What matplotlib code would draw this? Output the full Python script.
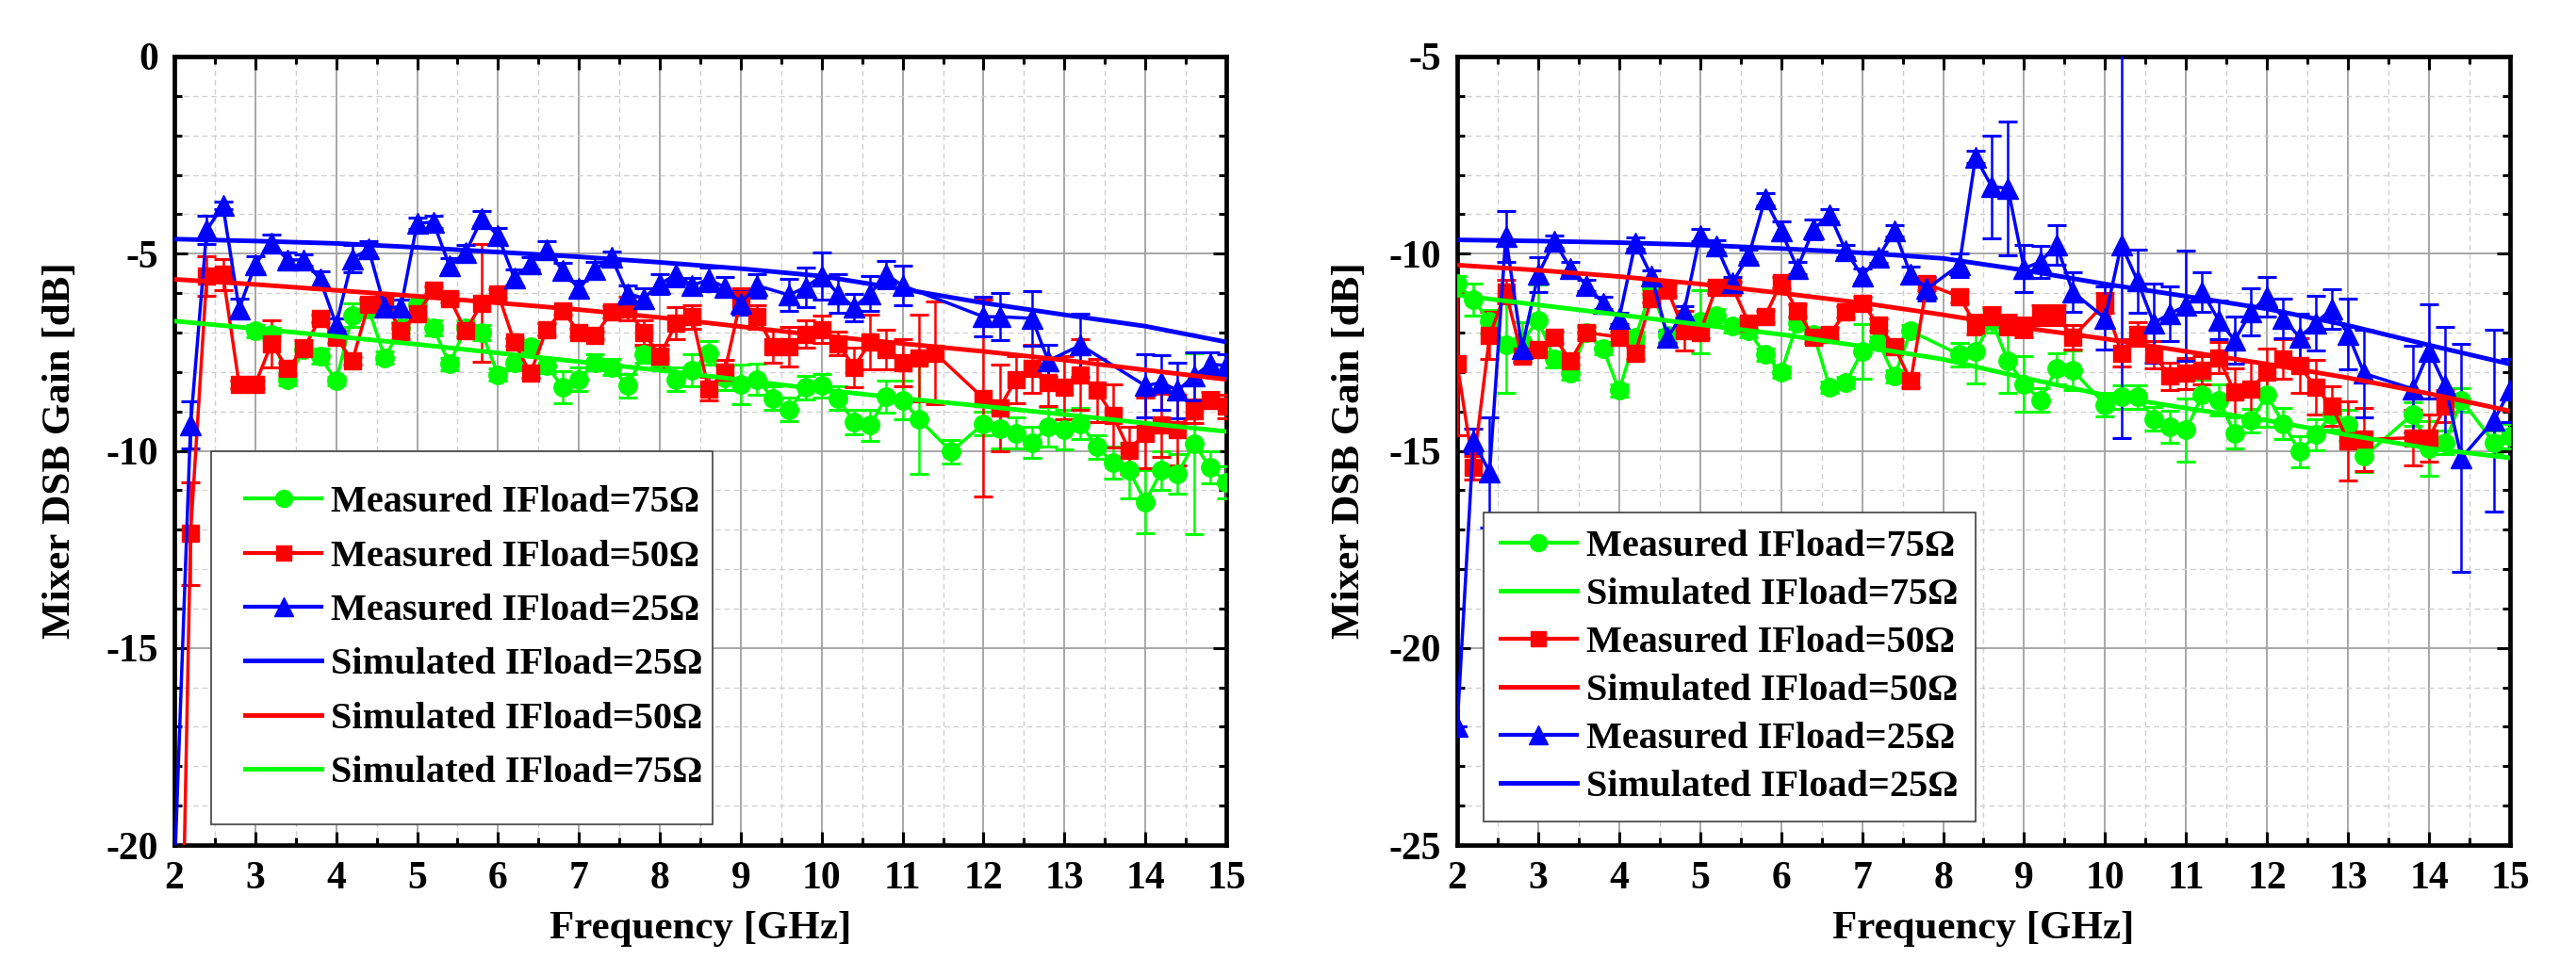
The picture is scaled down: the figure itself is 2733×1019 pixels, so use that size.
import matplotlib
matplotlib.use("Agg")
import matplotlib.pyplot as plt
from matplotlib.lines import Line2D
from matplotlib.ticker import MultipleLocator

plt.rcParams['font.family'] = ['Liberation Serif', 'DejaVu Serif']
plt.rcParams['font.weight'] = 'bold'
plt.rcParams['axes.unicode_minus'] = False

GREEN = '#00ff00'
RED = '#ff0000'
BLUE = '#0000ff'

# ---------------- left panel: measured data ----------------
lb_f = [2.0, 2.2, 2.4, 2.6, 2.8, 3.0, 3.2, 3.4, 3.6, 3.8, 4.0, 4.2, 4.4, 4.6, 4.8,
        5.0, 5.2, 5.4, 5.6, 5.8, 6.0, 6.2, 6.4, 6.6, 6.8, 7.0, 7.2, 7.4, 7.6, 7.8,
        8.0, 8.2, 8.4, 8.6, 8.8, 9.0, 9.2, 9.6, 9.8, 10.0, 10.2, 10.4, 10.6, 10.8,
        11.0, 12.0, 12.2, 12.6, 12.8, 13.2, 14.0, 14.2, 14.4, 14.6, 14.8, 15.0]
lb_g = [-20.8, -9.35, -4.40, -3.78, -6.40, -5.27, -4.72, -5.16, -5.16, -5.65, -6.80,
        -5.13, -4.88, -6.36, -6.36, -4.23, -4.20, -5.31, -4.97, -4.11, -4.55, -5.61,
        -5.25, -4.89, -5.43, -5.89, -5.41, -5.09, -6.01, -6.13, -5.77, -5.53, -5.81,
        -5.65, -5.85, -6.25, -5.81, -6.05, -5.85, -5.57, -6.01, -6.36, -6.01, -5.53,
        -5.81, -6.60, -6.60, -6.64, -7.72, -7.32, -8.35, -8.27, -8.47, -8.11, -7.80, -7.84]
lb_e = [0, .6, .35, .1, .25, .2, .2, .2, .15, .2, .15, .35, .2, .2, .2, .15, .15, .2,
        .2, .2, .2, .2, .15, .2, .2, .2, .2, .15, .2, .25, .25, .3, .2, .3, .25, .3,
        .3, .4, .5, .6, .5, .35, .45, .35, .5, .5, .6, .7, .4, .8, .8, .7, .7, .6, .3, .3]

lr_f = [2.0, 2.2, 2.4, 2.6, 2.8, 3.0, 3.2, 3.4, 3.6, 3.8, 4.0, 4.2, 4.4, 4.6, 4.8,
        5.0, 5.2, 5.4, 5.6, 5.8, 6.0, 6.2, 6.4, 6.6, 6.8, 7.0, 7.2, 7.4, 7.6, 7.8,
        8.0, 8.2, 8.4, 8.6, 8.8, 9.0, 9.2, 9.4, 9.6, 9.8, 10.0, 10.2, 10.4, 10.6,
        10.8, 11.0, 11.2, 11.4, 12.0, 12.2, 12.4, 12.6, 12.8, 13.0, 13.2, 13.4, 13.6,
        13.8, 14.0, 14.2, 14.4, 14.6, 14.8, 15.0]
lr_g = [-33.0, -12.1, -5.57, -5.53, -8.31, -8.31, -7.28, -7.92, -7.40, -6.64, -7.12,
        -7.72, -6.28, -6.21, -6.96, -6.52, -5.93, -6.13, -6.96, -6.25, -6.01, -7.24,
        -8.04, -6.92, -6.44, -7.00, -7.08, -6.48, -6.40, -7.00, -7.60, -6.76, -6.60,
        -8.43, -8.00, -6.17, -6.60, -7.36, -7.36, -7.04, -6.92, -7.28, -7.88, -7.24,
        -7.44, -7.76, -7.64, -7.52, -8.67, -8.91, -8.19, -7.92, -8.27, -8.39, -8.07,
        -8.47, -9.11, -9.98, -9.55, -9.35, -9.47, -8.99, -8.71, -8.87]
lr_e = [0, 1.3, .5, .4, .1, .1, .6, .15, .2, .1, .15, .1, .15, .15, .2, .2, .1, .1,
        .15, 1.5, .1, .1, .1, .15, .1, .1, .1, .15, .3, .3, .3, .4, .3, .3, .3, .3,
        .3, .4, .5, .35, .35, .3, .5, .7, .5, .6, 1.1, 1.3, 2.5, 1.1, .6, .6, .6, .8,
        .9, .8, .8, .6, .9, .8, .9, .3, .2, .3]

lg_f = [3.0, 3.2, 3.4, 3.6, 3.8, 4.0, 4.2, 4.4, 4.6, 4.8, 5.0, 5.2, 5.4, 5.6, 5.8,
        6.0, 6.2, 6.4, 6.6, 6.8, 7.0, 7.2, 7.4, 7.6, 7.8, 8.0, 8.2, 8.4, 8.6, 8.8,
        9.0, 9.2, 9.4, 9.6, 9.8, 10.0, 10.2, 10.4, 10.6, 10.8, 11.0, 11.2, 11.6,
        12.0, 12.2, 12.4, 12.6, 12.8, 13.0, 13.2, 13.4, 13.6, 13.8, 14.0, 14.2, 14.4,
        14.6, 14.8, 15.0]
lg_g = [-6.96, -7.04, -8.19, -7.44, -7.60, -8.23, -6.56, -6.40, -7.64, -6.88, -6.28,
        -6.88, -7.80, -6.88, -7.00, -8.07, -7.76, -7.36, -7.84, -8.39, -8.19, -7.76,
        -7.88, -8.35, -7.56, -7.64, -8.19, -7.96, -7.52, -8.15, -8.31, -8.19, -8.67,
        -8.95, -8.39, -8.35, -8.67, -9.27, -9.35, -8.63, -8.71, -9.19, -10.02, -9.31,
        -9.43, -9.55, -9.79, -9.39, -9.47, -9.31, -9.90, -10.30, -10.50, -11.30,
        -10.50, -10.58, -9.82, -10.42, -10.80]
lg_e = [.15, .15, .15, .15, .2, .1, .3, .2, .15, .15, .2, .2, .15, .2, .2, .15, .2,
        .15, .2, .4, .3, .2, .2, .3, .2, .2, .3, .4, .3, .3, .5, .4, .3, .3, .3, .3,
        .3, .3, .4, .4, .5, 1.4, .3, .3, .5, .4, .4, .5, .5, .4, .3, .4, .7, .8, .5,
        .5, 2.3, .4, .4]

# ---------------- right panel: measured data ----------------
rb_f = [2.0, 2.2, 2.4, 2.6, 2.8, 3.0, 3.2, 3.4, 3.6, 3.8, 4.0, 4.2, 4.4, 4.6, 4.8,
        5.0, 5.2, 5.4, 5.6, 5.8, 6.0, 6.2, 6.4, 6.6, 6.8, 7.0, 7.2, 7.4, 7.6, 7.8,
        8.2, 8.4, 8.6, 8.8, 9.0, 9.2, 9.4, 9.6, 10.0, 10.2, 10.4, 10.6, 10.8, 11.0,
        11.2, 11.4, 11.6, 11.8, 12.0, 12.2, 12.4, 12.6, 12.8, 13.0, 13.2, 13.8, 14.0,
        14.2, 14.4, 14.8, 15.0]
rb_g = [-22.0, -14.75, -15.54, -9.57, -12.40, -10.53, -9.69, -10.37, -10.81, -11.25,
        -11.64, -9.73, -10.57, -12.12, -11.48, -9.53, -9.81, -10.73, -10.05, -8.62,
        -9.42, -10.37, -9.38, -9.02, -9.93, -10.57, -10.09, -9.42, -10.53, -10.89,
        -10.29, -7.55, -8.30, -8.34, -10.37, -10.21, -9.77, -10.97, -11.64, -9.77,
        -10.69, -11.76, -11.52, -11.32, -10.97, -11.68, -12.20, -11.48, -11.09,
        -11.64, -12.12, -11.76, -11.40, -12.04, -13.04, -13.43, -12.48, -13.35,
        -15.18, -14.23, -13.47]
rb_e = [0, .3, 1.4, .65, .2, .45, .15, .15, .15, .15, .15, .15, .15, .15, .15, .15,
        .15, .15, .15, .15, .25, .15, .25, .15, .15, .2, .15, .15, .2, .3, .3, .15,
        1.3, 1.7, .6, .4, .5, .5, .8, 4.9, .8, 1.0, .7, 1.4, .5, .5, .6, .6, .5, .5,
        .6, .7, .5, .9, 1.1, 1.1, 1.2, 1.5, 2.9, 2.3, .8]

rr_f = [2.0, 2.2, 2.4, 2.6, 2.8, 3.0, 3.2, 3.4, 3.6, 4.0, 4.2, 4.4, 4.6, 4.8, 5.0,
        5.2, 5.4, 5.6, 5.8, 6.0, 6.2, 6.4, 6.6, 6.8, 7.0, 7.2, 7.4, 7.6, 7.8, 8.2,
        8.4, 8.6, 8.8, 9.0, 9.2, 9.4, 9.6, 10.0, 10.2, 10.4, 10.6, 10.8, 11.0, 11.2,
        11.4, 11.6, 11.8, 12.0, 12.2, 12.4, 12.6, 12.8, 13.0, 13.2, 13.8, 14.0, 14.2]
rr_g = [-12.80, -15.42, -12.08, -10.97, -12.60, -12.44, -12.12, -12.72, -12.00,
        -12.12, -12.52, -11.13, -10.93, -11.96, -12.00, -10.85, -10.85, -11.76,
        -11.60, -10.73, -11.44, -12.12, -12.04, -11.48, -11.25, -11.80, -12.36,
        -13.23, -10.77, -11.09, -11.80, -11.60, -11.80, -11.88, -11.56, -11.56,
        -12.12, -11.25, -12.52, -12.04, -12.56, -13.11, -13.04, -12.96, -12.64,
        -13.51, -13.43, -13.00, -12.68, -12.84, -13.39, -13.87, -14.75, -14.71,
        -14.67, -14.67, -13.87]
rr_e = [1.8, .3, .6, .3, .15, .15, .15, .1, .15, .15, .15, .1, .15, .5, .15, .15,
        .15, .15, .15, .15, .15, .15, .15, .15, .15, .15, .15, .15, .15, .15, .25,
        .25, .25, .25, .25, .25, .3, .25, .35, .3, .35, .35, .4, .35, .4, .6, .7, .6,
        .5, .7, .7, .5, 1.0, .8, .7, .6, .4]

rg_f = [2.0, 2.2, 2.4, 2.6, 2.8, 3.0, 3.2, 3.4, 3.6, 3.8, 4.0, 4.2, 4.4, 4.6, 4.8,
        5.0, 5.2, 5.4, 5.6, 5.8, 6.0, 6.2, 6.4, 6.6, 6.8, 7.0, 7.2, 7.4, 7.6, 8.2,
        8.4, 8.6, 8.8, 9.0, 9.2, 9.4, 9.6, 10.0, 10.2, 10.4, 10.6, 10.8, 11.0, 11.2,
        11.4, 11.6, 11.8, 12.0, 12.2, 12.4, 12.6, 12.8, 13.0, 13.2, 13.8, 14.0, 14.2,
        14.4, 14.8, 15.0]
rg_g = [-10.77, -11.17, -11.72, -12.32, -12.24, -11.68, -12.68, -13.04, -12.00,
        -12.40, -13.47, -12.12, -10.89, -12.08, -11.88, -11.72, -11.56, -11.84,
        -11.96, -12.56, -13.00, -11.76, -12.04, -13.39, -13.27, -12.48, -12.24,
        -13.11, -11.96, -12.56, -12.48, -11.70, -12.72, -13.31, -13.71, -12.92,
        -12.96, -13.83, -13.63, -13.63, -14.19, -14.39, -14.47, -13.59, -13.71,
        -14.55, -14.23, -13.59, -14.31, -15.02, -14.59, -14.07, -14.35, -15.14,
        -14.07, -14.94, -14.79, -13.71, -14.79, -14.63]
rg_e = [.2, .4, .3, 1.2, .5, .9, .2, .15, .2, .15, .15, .15, .2, .15, .15, .8, .15,
        .15, .15, .15, .15, .15, .15, .15, .15, .7, .15, .15, .15, .3, .8, .3, .8,
        .7, .3, .4, .5, .3, .3, .3, .3, .4, .8, .4, .4, .4, .3, .8, .4, .4, .4, .4,
        .4, .4, .3, .7, .3, .3, .3, .3]

# ---------------- simulated curves ----------------
sim_f = [2, 3, 4, 5, 6, 7, 8, 9, 10, 11, 12, 13, 14, 15]
l_sim25 = [-4.63, -4.68, -4.74, -4.84, -4.96, -5.08, -5.22, -5.38, -5.57, -5.90,
           -6.25, -6.55, -6.84, -7.24]
l_sim50 = [-5.65, -5.78, -5.93, -6.08, -6.25, -6.42, -6.62, -6.85, -7.08, -7.28,
           -7.48, -7.70, -7.95, -8.19]
l_sim75 = [-6.71, -6.90, -7.10, -7.30, -7.52, -7.74, -7.96, -8.20, -8.45, -8.67,
           -8.87, -9.08, -9.30, -9.51]
r_sim25 = [-9.65, -9.68, -9.72, -9.78, -9.87, -9.98, -10.12, -10.42, -10.77, -11.08,
           -11.40, -11.82, -12.32, -12.80]
r_sim50 = [-10.29, -10.42, -10.58, -10.77, -11.00, -11.25, -11.55, -11.88, -12.16,
           -12.48, -12.80, -13.15, -13.55, -13.99]
r_sim75 = [-11.05, -11.30, -11.55, -11.80, -12.05, -12.35, -12.68, -13.15, -13.59,
           -13.92, -14.23, -14.60, -14.94, -15.18]

MARK = {GREEN: ('o', 14), RED: ('s', 13), BLUE: ('^', 16)}


def style_axes(ax, ylim):
    ax.set_xlim(2, 15)
    ax.set_ylim(*ylim)
    ax.xaxis.set_major_locator(MultipleLocator(1))
    ax.xaxis.set_minor_locator(MultipleLocator(0.5))
    ax.yaxis.set_major_locator(MultipleLocator(5))
    ax.yaxis.set_minor_locator(MultipleLocator(1))
    ax.grid(which='major', color='#a0a0a0', lw=1.3, ls='-', zorder=0)
    ax.grid(which='minor', color='#d0d0d0', lw=1.0, ls=(0, (4, 3)), zorder=0)
    ax.set_axisbelow(True)
    ax.tick_params(which='both', direction='in', top=True, right=True, width=2.2,
                   labelsize=30, pad=12)
    ax.tick_params(which='major', length=10)
    ax.tick_params(which='minor', length=5.5)
    for sp in ax.spines.values():
        sp.set_linewidth(3.4)
    ax.set_xlabel('Frequency [GHz]', fontsize=31, fontweight='bold')
    ax.set_ylabel('Mixer DSB Gain [dB]', fontsize=31, fontweight='bold')


def measured(ax, f, g, e, color):
    m, ms = MARK[color]
    ax.errorbar(f, g, yerr=e, color=color, marker=m, ms=ms, lw=2.5, elinewidth=1.8,
                capsize=7, capthick=2.2, zorder=3)


def handle(color, with_marker):
    if with_marker:
        m, ms = MARK[color]
        return Line2D([], [], color=color, lw=3, marker=m, ms=ms - 1)
    return Line2D([], [], color=color, lw=3.5)


fig = plt.figure(figsize=(27.33, 10.19), dpi=100)
ax1 = fig.add_axes([185 / 2733, 122 / 1019, 1116 / 2733, 837 / 1019])
ax2 = fig.add_axes([1546 / 2733, 122 / 1019, 1117 / 2733, 837 / 1019])

# left panel
style_axes(ax1, (-20, 0))
measured(ax1, lg_f, lg_g, lg_e, GREEN)
measured(ax1, lr_f, lr_g, lr_e, RED)
measured(ax1, lb_f, lb_g, lb_e, BLUE)
ax1.plot(sim_f, l_sim25, color=BLUE, lw=3.5, zorder=4)
ax1.plot(sim_f, l_sim50, color=RED, lw=3.5, zorder=4)
ax1.plot(sim_f, l_sim75, color=GREEN, lw=3.5, zorder=4)
ax1.yaxis.set_label_coords(-0.091, 0.5)
ax1.xaxis.set_label_coords(0.5, -0.084)
h1 = [handle(GREEN, True), handle(RED, True), handle(BLUE, True),
      handle(BLUE, False), handle(RED, False), handle(GREEN, False)]
t1 = ['Measured IFload=75Ω', 'Measured IFload=50Ω', 'Measured IFload=25Ω',
      'Simulated IFload=25Ω', 'Simulated IFload=50Ω', 'Simulated IFload=75Ω']
leg1 = ax1.legend(h1, t1, loc='lower left', bbox_to_anchor=(0.035, 0.026, 0.477, 0.474),
                  mode='expand', fontsize=29, handlelength=2.0, handletextpad=0.25,
                  borderpad=0.9, labelspacing=0.5, fancybox=False, framealpha=1,
                  edgecolor='#404040', borderaxespad=0)
leg1.get_frame().set_linewidth(1.2)
leg1.set_zorder(10)

# right panel
style_axes(ax2, (-25, -5))
measured(ax2, rg_f, rg_g, rg_e, GREEN)
measured(ax2, rr_f, rr_g, rr_e, RED)
measured(ax2, rb_f, rb_g, rb_e, BLUE)
ax2.plot(sim_f, r_sim25, color=BLUE, lw=3.5, zorder=4)
ax2.plot(sim_f, r_sim50, color=RED, lw=3.5, zorder=4)
ax2.plot(sim_f, r_sim75, color=GREEN, lw=3.5, zorder=4)
ax2.yaxis.set_label_coords(-0.085, 0.5)
ax2.xaxis.set_label_coords(0.5, -0.084)
h2 = [handle(GREEN, True), handle(GREEN, False), handle(RED, True),
      handle(RED, False), handle(BLUE, True), handle(BLUE, False)]
t2 = ['Measured IFload=75Ω', 'Simulated IFload=75Ω', 'Measured IFload=50Ω',
      'Simulated IFload=50Ω', 'Measured IFload=25Ω', 'Simulated IFload=25Ω']
leg2 = ax2.legend(h2, t2, loc='lower left', bbox_to_anchor=(0.025, 0.03, 0.467, 0.393),
                  mode='expand', fontsize=29, handlelength=2.0, handletextpad=0.25,
                  borderpad=0.45, labelspacing=0.34, fancybox=False, framealpha=1,
                  edgecolor='#404040', borderaxespad=0)
leg2.get_frame().set_linewidth(1.2)
leg2.set_zorder(10)

fig.savefig('out.png', dpi=100)
